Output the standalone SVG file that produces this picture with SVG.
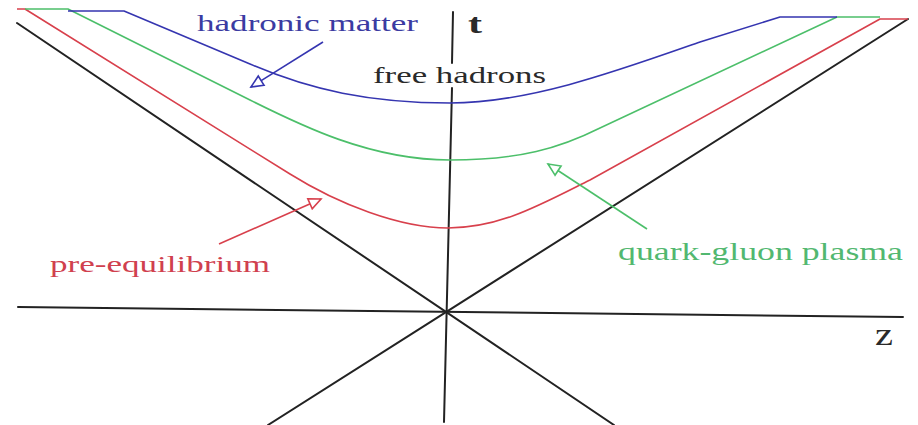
<svg xmlns="http://www.w3.org/2000/svg" width="918" height="425" viewBox="0 0 918 425">
<style>
.ax{stroke:#222;stroke-width:2;fill:none;stroke-linecap:round}
.cv{fill:none;stroke-width:1.6;stroke-linejoin:round}
.lbl{font-family:"Liberation Serif","Times New Roman",serif}
.blue{stroke:#3535b0}
.green{stroke:#4cbf6a}
.red{stroke:#d8404c}
</style>
<defs>
<marker id="mb" markerUnits="userSpaceOnUse" markerWidth="16" markerHeight="14" refX="14" refY="7" orient="auto"><path d="M2,1.5 L14,7 L2,12.5 Z" fill="#fff" stroke="#3535b0" stroke-width="1.6"/></marker>
<marker id="mr" markerUnits="userSpaceOnUse" markerWidth="16" markerHeight="14" refX="14" refY="7" orient="auto"><path d="M2,1.5 L14,7 L2,12.5 Z" fill="#fff" stroke="#d8404c" stroke-width="1.6"/></marker>
<marker id="mg" markerUnits="userSpaceOnUse" markerWidth="16" markerHeight="14" refX="14" refY="7" orient="auto"><path d="M2,1.5 L14,7 L2,12.5 Z" fill="#fff" stroke="#4cbf6a" stroke-width="1.6"/></marker>
</defs>
<rect width="918" height="425" fill="#fff"/>
<g id="axes">
<line class="ax" x1="18" y1="307" x2="903" y2="317"/>
<line class="ax" x1="453" y1="12" x2="452" y2="63" stroke-width="2.5"/>
<line class="ax" x1="452" y1="88" x2="444" y2="422" stroke-width="2.5"/>
<line class="ax" x1="17" y1="23" x2="614" y2="425"/>
<line class="ax" x1="908" y1="19" x2="268" y2="425"/>
</g>
<g id="curves">
<path id="red-curve" class="cv red" d="M17,9 L25,9 L290,174 C338,204 400,228 448,228 C500,228 540,205 590,180 L880,19 L908,19"/>
<path id="green-curve" class="cv green" d="M25,9 L68,9 L250,100 C300,125 370,160 450,160 C520,160 560,148 600,128 L837,17 L880,17"/>
<path id="blue-curve" class="cv blue" d="M68,11 L124,11 L250,64 C310,90 370,103 450,103 C530,103 620,70 700,42 L780,17 L837,17"/>
</g>
<g id="connectors">
<line class="cv blue" x1="323" y1="42" x2="251" y2="87" marker-end="url(#mb)"/>
<line class="cv red" x1="219" y1="244" x2="321" y2="199" marker-end="url(#mr)"/>
<line class="cv green" x1="647" y1="229" x2="548" y2="164" marker-end="url(#mg)"/>
</g>
<g id="label-hadronic">
<text class="lbl" x="197" y="31" font-size="24" fill="#3b3ba2" textLength="221" lengthAdjust="spacingAndGlyphs">hadronic matter</text>
</g>
<g id="label-free">
<text class="lbl" x="373" y="83" font-size="23" fill="#2a2a2a" textLength="173" lengthAdjust="spacingAndGlyphs">free hadrons</text>
</g>
<g id="label-t">
<text class="lbl" x="468" y="33" font-size="28" font-weight="bold" fill="#2a2a2a" textLength="14" lengthAdjust="spacingAndGlyphs">t</text>
</g>
<g id="label-pre">
<text class="lbl" x="50" y="272" font-size="24" fill="#d0404e" textLength="220" lengthAdjust="spacingAndGlyphs">pre-equilibrium</text>
</g>
<g id="label-qgp">
<text class="lbl" x="618" y="260" font-size="25" fill="#52b870" textLength="285" lengthAdjust="spacingAndGlyphs">quark-gluon plasma</text>
</g>
<g id="label-z">
<text class="lbl" x="875" y="345" font-size="32" fill="#2a2a2a" textLength="18" lengthAdjust="spacingAndGlyphs">z</text>
</g>
</svg>
